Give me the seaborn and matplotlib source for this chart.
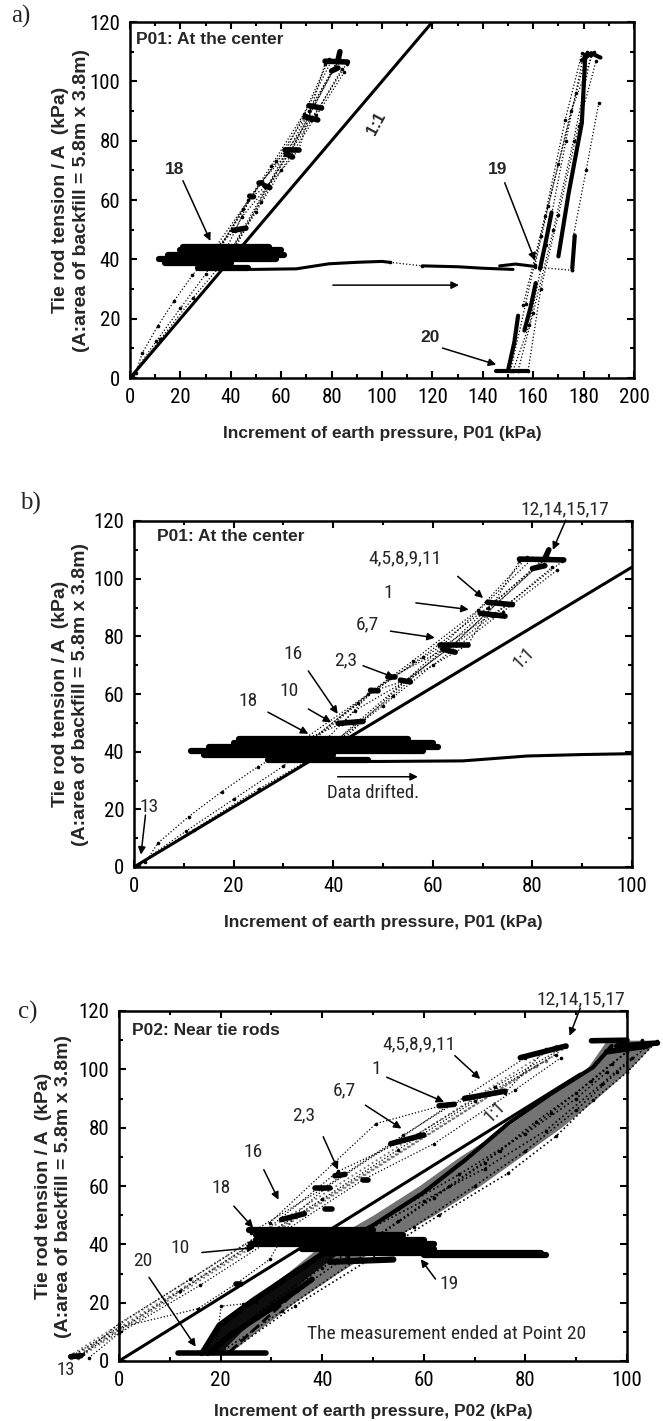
import numpy as np
import pandas as pd
import matplotlib
matplotlib.use("Agg")
import matplotlib.pyplot as plt
from matplotlib import font_manager as fm
import seaborn as sns

# ---------------- data (kPa) ----------------
# P01 (panels a and b): loading cycles, upper branch
P01_CYCLE_X = [
    [2.3, 4.8, 11.0, 17.6, 24.8, 34.0, 41.7, 48.0, 54.5, 64.2, 73.0, 82.4],
    [0.5, 10.5, 20.0, 30.0, 36.0, 51.5, 64.2, 73.0, 82.4],
    [1.0, 12.0, 25.0, 38.0, 54.5, 72.0, 86.0],
    [33.0, 48.0, 62.0, 80.0],
    [40.0, 62.0, 75.0, 84.0],
    [35.0, 44.3, 67.0, 77.4],
    [37.0, 52.0, 70.0, 83.0],
    [34.0, 45.0, 58.0, 71.0, 81.0],
    [38.5, 50.0, 60.0, 74.0, 85.0],
    [36.0, 47.0, 56.0, 69.0, 79.0],
]
P01_CYCLE_Y = [
    [1.6, 8.3, 17.5, 26.1, 34.7, 44.0, 49.7, 61.1, 64.6, 77.2, 91.6, 106.5],
    [0.5, 12.5, 23.5, 35.0, 44.0, 65.7, 77.2, 91.6, 106.5],
    [1.0, 13.0, 27.0, 40.0, 64.6, 87.0, 106.0],
    [43.0, 61.1, 77.0, 107.0],
    [41.0, 76.5, 91.0, 104.0],
    [38.0, 54.2, 77.0, 106.0],
    [39.0, 59.4, 88.0, 108.0],
    [42.0, 57.0, 73.0, 90.0, 104.5],
    [40.5, 56.0, 70.0, 88.5, 103.0],
    [44.5, 60.0, 71.5, 89.0, 107.5],
]
P01_BLOB_X = [[77.4, 86.3], [82.5, 83.3], [80.0, 82.5], [71.0, 76.0], [69.5, 74.5],
              [61.5, 67.0], [62.0, 64.5], [41.0, 46.0], [53.5, 55.5], [47.5, 49.0], [51.0, 52.5]]
P01_BLOB_Y = [[106.8, 106.5], [107.0, 110.0], [103.5, 104.5], [91.8, 91.0], [88.0, 87.0],
              [77.0, 77.0], [75.5, 74.5], [49.8, 50.5], [64.8, 64.2], [61.3, 61.1], [65.8, 65.8]]
P01_BAND_X = [[27, 47], [14, 40], [11.5, 58], [15, 61], [20, 60], [21, 55]]
P01_BAND_Y = [[37.2, 37.2], [38.8, 38.8], [40.2, 40.2], [41.6, 41.6], [43.0, 43.0], [44.3, 44.3]]
P01_DRIFT_X = [[34, 49, 66, 79, 90, 100, 103], [116, 130, 140, 152], [146.7, 153, 160.7]]
P01_DRIFT_Y = [[36.8, 36.6, 36.8, 38.5, 39.0, 39.3, 39.0], [37.8, 37.5, 37.0, 36.6], [37.8, 38.4, 37.6]]
P01_LINK_X = [[103, 116], [160.7, 175.5]]
P01_LINK_Y = [[39.0, 37.8], [37.4, 36.3]]
P01_RIGHT_X = [
    [152.0, 158.5, 165.0, 173.0, 180.0],
    [154.0, 160.0, 168.0, 176.0, 183.0],
    [156.0, 164.7, 172.7, 179.3],
    [160.7, 166.0, 175.0, 184.0],
    [175.5, 176.0, 181.0, 186.0],
    [151.0, 157.0, 163.0, 170.0, 177.0, 181.5],
    [158.0, 163.0, 170.0, 178.0, 185.0],
]
P01_RIGHT_Y = [
    [2.5, 18.0, 45.0, 80.0, 109.0],
    [2.5, 22.0, 50.0, 80.0, 109.0],
    [24.5, 54.7, 87.0, 109.4],
    [38.0, 58.0, 90.0, 110.0],
    [36.3, 48.0, 70.0, 92.6],
    [2.5, 25.0, 48.0, 72.0, 96.0, 110.0],
    [2.5, 30.0, 55.0, 85.0, 107.0],
]
P01_RTHICK_X = [[150.0, 152.5, 154.0], [156.5, 159.0, 161.0], [162.7, 165.0, 167.3],
                [170.0, 174.0, 179.3, 180.7], [145.3, 158.0], [179.3, 183.0, 186.7],
                [175.5, 176.5]]
P01_RTHICK_Y = [[2.5, 12.0, 21.0], [16.0, 24.0, 32.0], [36.8, 46.0, 55.8],
                [41.0, 62.0, 86.0, 109.0], [2.5, 2.5], [107.0, 109.5, 108.0],
                [37.0, 48.0]]

# P02 (panel c)
P02_UP_X = [
    [-9.0, 0.0, 15.5, 23.0, 29.7, 34.7, 40.6, 54.4, 65.3, 76.0, 84.1],
    [-8.0, 0.0, 12.0, 26.0, 40.0, 55.0, 70.0, 86.0],
    [-7.0, 0.0, 14.0, 28.0, 43.1, 59.0, 74.0, 88.0],
    [-6.0, 0.0, 16.0, 33.0, 48.1, 62.0, 78.0, 87.0],
    [29.7, 50.6, 64.9],
    [26.0, 40.0, 56.0, 68.0, 80.0],
]
P02_UP_Y = [
    [2.0, 11.5, 17.9, 26.4, 34.9, 50.2, 59.3, 75.2, 88.2, 92.0, 107.0],
    [1.5, 10.5, 24.0, 40.0, 55.5, 72.5, 89.0, 105.0],
    [2.5, 12.8, 28.0, 43.5, 65.0, 78.0, 94.0, 108.0],
    [1.0, 9.5, 26.0, 45.0, 62.2, 74.5, 93.0, 104.0],
    [47.4, 81.4, 88.2],
    [44.0, 59.0, 77.5, 90.5, 104.0],
]
# light hatch of many nearly straight cycles along the upper branch
P02_HATCH_X = [[-9.5, 88.0], [-9.0, 86.0], [-8.5, 84.0], [-8.0, 82.0]]
P02_HATCH_Y = [[1.0, 107.5], [2.5, 108.0], [1.5, 103.0], [1.0, 101.0]]
P02_BLOB_X = [[32.0, 36.5], [53.5, 60.0], [63.0, 66.0], [68.0, 76.0], [79.0, 88.0],
              [42.5, 44.5], [40.5, 42.0], [23.0, 24.0], [48.0, 49.0], [38.5, 41.5], [-9.5, -7.5]]
P02_BLOB_Y = [[48.5, 50.5], [74.5, 77.5], [87.5, 88.0], [90.0, 92.5], [104.0, 108.0],
              [63.5, 64.0], [52.0, 52.0], [26.4, 26.4], [62.2, 62.2], [59.3, 59.3], [1.5, 1.8]]
P02_BAND_X = [[25.5, 50], [27, 56], [27, 60], [26, 62], [36, 62], [40, 83], [60, 84], [41.5, 54]]
P02_BAND_Y = [[44.8, 44.8], [43.2, 43.2], [41.6, 41.6], [40.0, 40.0], [38.5, 38.5],
              [37.0, 37.0], [36.2, 36.2], [34.0, 34.8]]
P02_LOW_X = [
    [18.5, 26.0, 35.0, 45.0, 55.0, 65.0, 75.0, 85.0, 93.0, 100.0],
    [21.8, 34.7, 51.5, 63.0, 76.6, 86.0, 93.3, 100.0, 105.9],
    [17.5, 30.0, 40.0, 52.0, 62.0, 72.0, 82.0, 90.0, 97.0, 103.0],
    [20.0, 32.0, 47.0, 58.0, 70.0, 80.0, 90.0, 98.0, 104.0],
    [43.0, 55.0, 67.0, 80.0, 90.0, 96.0],
    [49.0, 60.0, 72.0, 84.0, 95.0, 101.0],
]
P02_LOW_Y = [
    [2.8, 14.0, 24.0, 36.0, 48.0, 60.0, 72.0, 85.0, 96.0, 106.0],
    [3.2, 19.0, 37.2, 50.0, 64.4, 77.0, 89.4, 99.0, 109.8],
    [2.6, 20.0, 32.0, 44.0, 56.0, 68.0, 82.0, 92.0, 102.0, 110.0],
    [3.0, 17.0, 35.0, 46.0, 60.0, 72.0, 86.0, 99.0, 108.0],
    [40.0, 52.0, 64.0, 78.0, 90.0, 99.0],
    [45.0, 55.0, 66.0, 79.0, 95.0, 104.0],
]
# outline of the dense cloud after point 19 (left / right edge at each tension level)
P02_CLOUD_Y = [3, 10, 20, 30, 40, 50, 60, 70, 80, 90, 100, 110]
P02_CLOUD_L = [16.3, 18.5, 25.0, 33.0, 40.0, 50.0, 59.0, 67.0, 76.0, 84.0, 92.0, 96.0]
P02_CLOUD_R = [22.0, 27.0, 34.5, 43.0, 52.0, 62.0, 71.0, 79.0, 87.0, 94.0, 100.5, 106.0]
P02_CORE_Y = [3, 10, 20, 30, 38]
P02_CORE_L = [16.3, 18.5, 25.0, 33.0, 40.0]
P02_CORE_R = [20.0, 24.0, 31.0, 38.0, 44.0]
P02_LTHICK_X = [[16.3, 19.7, 26.4, 34.7, 41.4], [17.5, 22.0, 30.0, 38.0], [93.0, 100.0],
                [98.0, 106.0], [96.0, 104.0], [11.7, 28.9]]
P02_LTHICK_Y = [[2.6, 12.2, 20.8, 30.4, 38.3], [2.6, 9.0, 18.0, 28.0], [109.8, 110.0],
                [108.0, 109.0], [106.0, 108.0], [2.6, 2.6]]
P02_EDGE_X = [16.3, 19.7, 26.4, 34.7, 41.4, 49.8, 59.8, 68.2, 76.6, 85.0, 93.3, 97.0]
P02_EDGE_Y = [2.6, 12.2, 20.8, 30.4, 38.3, 46.3, 57.6, 69.0, 81.4, 91.6, 100.7, 108.0]
P02_DASH_X = [21.8, 34.7]
P02_DASH_Y = [3.2, 23.6]
P02_SIDE_X = [19.1, 20.1, 24.5, 27.0]
P02_SIDE_Y = [4.9, 18.8, 19.6, 20.2]

# 1:1 reference lines
ONE_A_X, ONE_A_Y = [0, 120], [0, 120]
ONE_B_X, ONE_B_Y = [0, 100], [0, 104]
ONE_C_X, ONE_C_Y = [0, 90.8], [0, 98.4]

# annotations (label, text position, arrow tail, arrow head)
A_LABELS = ['18', '19', '20']
A_TEXT_X = [17.6, 146.0, 119.0]
A_TEXT_Y = [70.4, 70.3, 13.5]
A_TAIL_X = [21.0, 148.7, 124.0]
A_TAIL_Y = [66.5, 65.8, 10.1]
A_HEAD_X = [31.9, 160.7, 145.3]
A_HEAD_Y = [46.2, 39.6, 4.5]

B_LABELS = ['12,14,15,17', '4,5,8,9,11', '1', '6,7', '2,3', '16', '10', '18', '13']
B_TEXT_X = [86.5, 54.5, 51.0, 46.8, 42.6, 32.0, 31.1, 23.0, 3.1]
B_TEXT_Y = [124.0, 107.1, 95.0, 84.1, 71.5, 73.8, 61.1, 57.7, 20.9]
B_TAIL_X = [86.7, 65.0, 56.6, 51.5, 46.0, 35.0, 35.0, 26.9, 2.3]
B_TAIL_Y = [120.3, 100.8, 91.6, 81.8, 69.8, 68.0, 54.8, 53.7, 18.0]
B_HEAD_X = [84.1, 70.1, 67.2, 60.4, 52.3, 40.9, 39.6, 35.0, 1.4]
B_HEAD_Y = [110.0, 93.3, 89.3, 79.5, 65.7, 53.1, 50.2, 46.2, 4.3]

C_LABELS = ['12,14,15,17', '4,5,8,9,11', '1', '6,7', '2,3', '16', '18', '10', '20', '19']
C_TEXT_X = [91.0, 59.0, 50.6, 44.4, 36.4, 26.4, 20.1, 12.1, 4.6, 64.9]
C_TEXT_Y = [124.0, 108.7, 100.1, 92.8, 84.3, 71.8, 59.3, 38.9, 34.4, 26.4]
C_TAIL_X = [90.8, 66.1, 52.7, 48.5, 40.2, 28.5, 22.6, 16.3, 5.9, 62.3]
C_TAIL_Y = [121.0, 104.7, 97.3, 87.7, 76.9, 65.6, 53.1, 37.2, 28.7, 28.1]
C_HEAD_X = [88.7, 71.1, 64.0, 55.6, 43.1, 31.4, 26.4, 26.8, 15.1, 59.4]
C_HEAD_Y = [111.5, 96.7, 88.8, 79.7, 65.6, 55.3, 45.7, 38.9, 4.9, 34.9]

# ---------------- style ----------------
sns.set_theme(style="ticks")
SANS = ['Liberation Sans', 'DejaVu Sans']
SERIF = ['Liberation Serif', 'DejaVu Serif']

# pick a narrow/condensed face when one is installed
_names = {f.name for f in fm.fontManager.ttflist}
_narrow = None
for cand in ['Liberation Sans Narrow', 'Arial Narrow', 'Roboto Condensed', 'Open Sans Condensed',
             'Noto Sans Condensed', 'DejaVu Sans Condensed']:
    if cand in _names:
        _narrow = cand
        break
if _narrow is None:
    for f in fm.fontManager.ttflist:
        if ('Narrow' in f.name or 'Condensed' in f.name) and 'Mono' not in f.name:
            _narrow = f.name
            break
NARROW = [_narrow, 'Liberation Sans', 'DejaVu Sans'] if _narrow else SANS
TICK_SIZE = 15 if _narrow else 14

plt.rcParams['font.family'] = SANS
plt.rcParams['axes.linewidth'] = 1.6

W, H = 663, 1421
fig = plt.figure(figsize=(W / 100, H / 100), dpi=100)


def px_axes(left, top, right, bottom):
    return fig.add_axes([left / W, 1 - bottom / H, (right - left) / W, (bottom - top) / H])


def draw(ax, xs, ys, color='black', **kw):
    rows = [(i, x, y) for i, (sx, sy) in enumerate(zip(xs, ys)) for x, y in zip(sx, sy)]
    df = pd.DataFrame(rows, columns=['seg', 'x', 'y'])
    sns.lineplot(data=df, x='x', y='y', units='seg', estimator=None, sort=False,
                 ax=ax, legend=False, color=color, **kw)


def dotted(ax, xs, ys, clip=True, lw=0.9, color='black'):
    draw(ax, xs, ys, color=color, lw=lw, linestyle=':', marker='o', markersize=2.6,
         markeredgewidth=0, clip_on=clip)


def thick(ax, xs, ys, lw=4.0, clip=True):
    draw(ax, xs, ys, lw=lw, linestyle='-', solid_capstyle='round', clip_on=clip)


def frame(ax, xmax, xlabel, pad_x):
    ax.set_xlim(0, xmax)
    ax.set_ylim(0, 120)
    ax.set_xticks(np.arange(0, xmax + 1, 20))
    ax.set_xticks(np.arange(0, xmax + 1, 10), minor=True)
    ax.set_yticks(np.arange(0, 121, 20))
    ax.set_yticks(np.arange(0, 121, 10), minor=True)
    ax.tick_params(which='both', direction='in', top=True, right=True, width=1.5, colors='black')
    ax.tick_params(which='major', length=5, labelsize=TICK_SIZE, pad=7)
    ax.tick_params(which='minor', length=3)
    for lab in ax.get_xticklabels() + ax.get_yticklabels():
        lab.set_family(NARROW)
    for s in ax.spines.values():
        s.set_color('black')
        s.set_linewidth(1.8)
    ax.set_xlabel(xlabel, fontsize=12.5, fontweight='bold', labelpad=pad_x)
    ax.set_ylabel('Tie rod tension / A  (kPa)\n(A:area of backfill = 5.8m x 3.8m)',
                  fontsize=14, fontweight='bold', linespacing=1.25)


def annotate(ax, labels, tx, ty, ax_, ay_, hx, hy, font, weight, size):
    for s, x, y in zip(labels, tx, ty):
        ax.text(x, y, s, ha='center', va='center', family=font, fontweight=weight,
                fontsize=size, clip_on=False)
    for x0, y0, x1, y1 in zip(ax_, ay_, hx, hy):
        ax.annotate('', xy=(x1, y1), xytext=(x0, y0), annotation_clip=False,
                    arrowprops=dict(arrowstyle='-|>', color='black', lw=1.1,
                                    mutation_scale=11, shrinkA=0, shrinkB=0))


def p01(ax):
    dotted(ax, P01_CYCLE_X, P01_CYCLE_Y)
    dotted(ax, P01_RIGHT_X, P01_RIGHT_Y)
    dotted(ax, P01_LINK_X, P01_LINK_Y)
    thick(ax, P01_BLOB_X, P01_BLOB_Y, lw=4.0)
    thick(ax, P01_BAND_X, P01_BAND_Y, lw=4.5)
    thick(ax, P01_DRIFT_X, P01_DRIFT_Y, lw=2.2)
    thick(ax, P01_RTHICK_X, P01_RTHICK_Y, lw=3.0)


# ---------------- panel a ----------------
axa = px_axes(130, 22, 634, 378)
p01(axa)
draw(axa, [ONE_A_X], [ONE_A_Y], lw=2.2)
frame(axa, 200, 'Increment of earth pressure, P01 (kPa)', 14)
axa.yaxis.set_label_coords(-0.08, 0.5)
annotate(axa, A_LABELS, A_TEXT_X, A_TEXT_Y, A_TAIL_X, A_TAIL_Y, A_HEAD_X, A_HEAD_Y,
         SANS, 'bold', 12.5)
annotate(axa, [], [], [], [80.5], [31.3], [130.5], [31.3], SANS, 'normal', 12)
axa.text(98, 85.6, '1:1', rotation=62, ha='center', va='center', fontsize=11.5, fontweight='bold')
axa.text(0.012, 0.95, 'P01: At the center', transform=axa.transAxes, ha='left', va='center',
         fontsize=12.5, fontweight='bold')

# ---------------- panel b ----------------
axb = px_axes(134, 521, 632, 867)
p01(axb)
draw(axb, [ONE_B_X], [ONE_B_Y], lw=2.2)
frame(axb, 100, 'Increment of earth pressure, P01 (kPa)', 14)
axb.yaxis.set_label_coords(-0.09, 0.5)
annotate(axb, B_LABELS, B_TEXT_X, B_TEXT_Y, B_TAIL_X, B_TAIL_Y, B_HEAD_X, B_HEAD_Y,
         NARROW, 'normal', 14)
annotate(axb, [], [], [], [40.9], [31.3], [57.0], [31.3], SANS, 'normal', 12)
axb.text(48, 25.5, 'Data drifted.', ha='center', va='center', family=NARROW, fontsize=13.5)
axb.text(78.2, 72.5, '1:1', rotation=45, ha='center', va='center', family=NARROW, fontsize=13)
axb.text(0.046, 0.954, 'P01: At the center', transform=axb.transAxes, ha='left', va='center',
         fontsize=12.5, fontweight='bold')

# ---------------- panel c ----------------
axc = px_axes(119, 1011, 627, 1361)
axc.fill_betweenx(P02_CLOUD_Y, P02_CLOUD_L, P02_CLOUD_R, color='0.45', lw=0, clip_on=False)
axc.fill_betweenx(P02_CORE_Y, P02_CORE_L, P02_CORE_R, color='0.05', lw=0, clip_on=False)
dotted(axc, P02_HATCH_X, P02_HATCH_Y, clip=False, lw=1.3, color='0.45')
dotted(axc, P02_UP_X, P02_UP_Y, clip=False)
dotted(axc, P02_LOW_X, P02_LOW_Y, clip=False, lw=1.2)
dotted(axc, [P02_SIDE_X], [P02_SIDE_Y], clip=False)
thick(axc, P02_BLOB_X, P02_BLOB_Y, lw=4.0, clip=False)
thick(axc, P02_BAND_X, P02_BAND_Y, lw=4.5, clip=False)
thick(axc, P02_LTHICK_X, P02_LTHICK_Y, lw=4.0, clip=False)
draw(axc, [P02_EDGE_X], [P02_EDGE_Y], lw=3.0, clip_on=False)
draw(axc, [P02_DASH_X], [P02_DASH_Y], lw=2.0, linestyle='--', clip_on=False)
draw(axc, [ONE_C_X], [ONE_C_Y], lw=2.2)
frame(axc, 100, 'Increment of earth pressure, P02 (kPa)', 10)
axc.yaxis.set_label_coords(-0.092, 0.5)
annotate(axc, C_LABELS, C_TEXT_X, C_TEXT_Y, C_TAIL_X, C_TAIL_Y, C_HEAD_X, C_HEAD_Y,
         NARROW, 'normal', 14)
axc.text(-10.5, -3.1, '13', ha='center', va='center', family=NARROW, fontsize=13.5, clip_on=False)
axc.text(64.4, 9.4, 'The measurement ended at Point 20', ha='center', va='center',
         family=NARROW, fontsize=14)
axc.text(74.0, 85.5, '1:1', rotation=45, ha='center', va='center', family=NARROW, fontsize=13)
axc.text(0.026, 0.943, 'P02: Near tie rods', transform=axc.transAxes, ha='left', va='center',
         fontsize=12.5, fontweight='bold')

# panel letters
for s, x, y in [('a)', 21, 16), ('b)', 30, 503), ('c)', 28, 1012)]:
    fig.text(x / W, 1 - y / H, s, ha='center', va='center', family=SERIF, fontsize=18)

fig.savefig('out.png', dpi=100)
